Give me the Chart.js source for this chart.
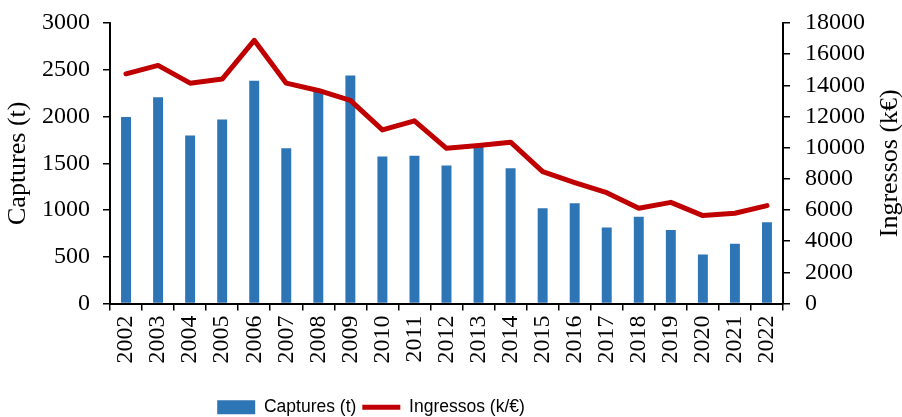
<!DOCTYPE html>
<html>
<head>
<meta charset="utf-8">
<script src="https://cdn.jsdelivr.net/npm/chart.js@4.4.1/dist/chart.umd.min.js"></script>
<style>
  html, body { margin: 0; padding: 0; background: #fff; }
  #wrap { width: 902px; height: 417px; }
</style>
</head>
<body>
<div id="wrap"><canvas id="chart"></canvas></div>
<script>
const years = ['2002', '2003', '2004', '2005', '2006', '2007', '2008', '2009', '2010', '2011',
  '2012', '2013', '2014', '2015', '2016', '2017', '2018', '2019', '2020', '2021', '2022'];
const captures = [1995, 2207, 1796, 1968, 2382, 1661, 2275, 2439, 1571, 1579,
  1475, 1680, 1446, 1018, 1071, 814, 929, 786, 525, 639, 868];
const ingressos = [14740, 15280, 14140, 14400, 16890, 14140, 13670, 13030, 11140, 11720,
  9960, 10140, 10350, 8460, 7760, 7110, 6110, 6490, 5640, 5790, 6280];
const leftTitle = 'Captures (t)';
const rightTitle = 'Ingressos (k€)';

const serif = "'Liberation Serif', 'Times New Roman', serif";
const sans = "'Liberation Sans', Arial, sans-serif";

// right axis title reads bottom-to-top like the left one, so draw it by hand
const rightTitlePlugin = {
  id: 'rightTitle',
  afterDraw(chart) {
    const s = chart.scales.y1;
    const ctx = chart.ctx;
    ctx.save();
    ctx.translate(s.right - 12, (s.top + s.bottom) / 2);
    ctx.rotate(-Math.PI / 2);
    ctx.font = '26px ' + serif;
    ctx.fillStyle = '#000';
    ctx.textAlign = 'center';
    ctx.textBaseline = 'middle';
    ctx.fillText(rightTitle, 0, 0);
    ctx.restore();
  }
};

// legend sits left of centre in the original
const legendShift = {
  id: 'legendShift',
  afterLayout(chart) {
    const l = chart.legend;
    l.left -= 80; l.right -= 80;
    l.top += 9; l.bottom += 9;
  }
};

new Chart(document.getElementById('chart'), {
  type: 'bar',
  data: {
    labels: years,
    datasets: [
      {
        type: 'bar',
        label: 'Captures (t)',
        data: captures,
        backgroundColor: '#2E75B6',
        yAxisID: 'y',
        order: 1,
        categoryPercentage: 1,
        barPercentage: 0.31,
        pointStyle: 'rect'
      },
      {
        type: 'line',
        label: 'Ingressos (k/€)',
        data: ingressos,
        borderColor: '#C00000',
        backgroundColor: '#C00000',
        borderWidth: 5,
        pointRadius: 0,
        tension: 0,
        borderCapStyle: 'round',
        borderJoinStyle: 'round',
        yAxisID: 'y1',
        order: 0,
        pointStyle: 'line'
      }
    ]
  },
  options: {
    responsive: true,
    maintainAspectRatio: false,
    animation: false,
    layout: { padding: { top: 23, left: 0, right: 0, bottom: 0 } },
    plugins: {
      tooltip: { enabled: false },
      legend: {
        position: 'bottom',
        labels: {
          usePointStyle: true,
          pointStyleWidth: 38,
          boxHeight: 14,
          padding: 6,
          color: '#000',
          font: { family: sans, size: 17.5 },
          sort: (a, b) => a.datasetIndex - b.datasetIndex
        }
      }
    },
    scales: {
      x: {
        grid: { display: true, drawOnChartArea: false, offset: true, color: '#000', lineWidth: 1.5, tickLength: 7 },
        border: { color: '#000', width: 2 },
        ticks: {
          color: '#000', font: { family: serif, size: 24 },
          minRotation: 90, maxRotation: 90, padding: 5, autoSkip: false
        },
        afterFit(scale) { scale.height = 80; }
      },
      y: {
        position: 'left',
        min: 0, max: 3000,
        ticks: { stepSize: 500, autoSkip: false, color: '#000', font: { family: serif, size: 24 }, padding: 13,
          callback: v => String(v) },
        grid: { drawOnChartArea: false, color: '#000', lineWidth: 1.5, tickLength: 7 },
        border: { color: '#000', width: 2 },
        title: { display: true, text: leftTitle, color: '#000', font: { family: serif, size: 26 }, padding: { top: 3, bottom: 0 } },
        afterFit(scale) { scale.width = 110; scale.paddingTop = 8; scale.paddingBottom = 8; }
      },
      y1: {
        position: 'right',
        min: 0, max: 18000,
        ticks: { stepSize: 2000, autoSkip: false, color: '#000', font: { family: serif, size: 24 }, padding: 15,
          callback: v => String(v) },
        grid: { drawOnChartArea: false, color: '#000', lineWidth: 1.5, tickLength: 7 },
        border: { color: '#000', width: 2 },
        afterFit(scale) { scale.width = 119; scale.paddingTop = 8; scale.paddingBottom = 8; }
      }
    }
  },
  plugins: [rightTitlePlugin, legendShift]
});
</script>
</body>
</html>
